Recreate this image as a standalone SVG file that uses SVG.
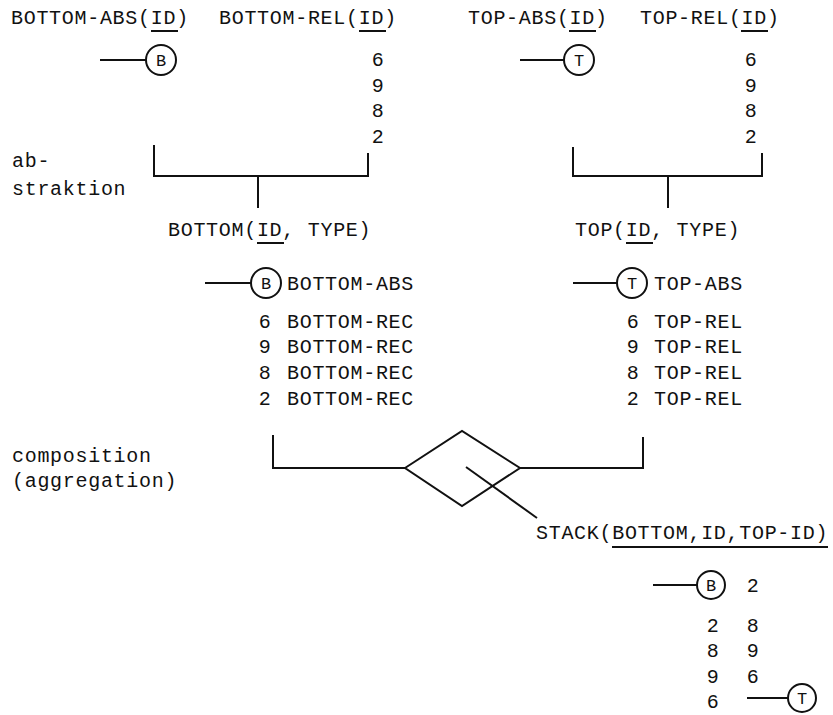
<svg xmlns="http://www.w3.org/2000/svg" width="833" height="715" viewBox="0 0 833 715">
<style>
text{font-family:"Liberation Mono","Courier New",monospace;font-size:20px;letter-spacing:0.7px;fill:#111}
.m{text-anchor:middle}
line,path,polyline,polygon,circle{stroke:#111;stroke-width:2;fill:none}
.c text{font-size:17px;letter-spacing:0}
</style>
<rect width="833" height="715" fill="#fff"/>
<g id="labels">
<text x="12" y="167">ab-</text>
<text x="12" y="195">straktion</text>
<text x="12" y="462">composition</text>
<text x="12" y="487">(aggregation)</text>
</g>
<g id="bottom-abs">
<text x="11" y="24">BOTTOM-ABS(ID)</text>
<line x1="151" y1="31" x2="178" y2="31"/>
<line x1="100" y1="60" x2="146" y2="60"/>
<g class="c"><circle cx="161" cy="60" r="15"/><text class="m" x="161" y="66">B</text></g>
</g>
<g id="bottom-rel">
<text x="219" y="24">BOTTOM-REL(ID)</text>
<line x1="359" y1="31" x2="386" y2="31"/>
<text class="m" x="378" y="66">6</text>
<text class="m" x="378" y="92">9</text>
<text class="m" x="378" y="117">8</text>
<text class="m" x="378" y="143">2</text>
</g>
<g id="top-abs">
<text x="468" y="24">TOP-ABS(ID)</text>
<line x1="569" y1="31" x2="596" y2="31"/>
<line x1="520" y1="60" x2="564" y2="60"/>
<g class="c"><circle cx="579" cy="60" r="15"/><text class="m" x="579" y="66">T</text></g>
</g>
<g id="top-rel">
<text x="640" y="24">TOP-REL(ID)</text>
<line x1="741" y1="31" x2="768" y2="31"/>
<text class="m" x="751" y="66">6</text>
<text class="m" x="751" y="92">9</text>
<text class="m" x="751" y="117">8</text>
<text class="m" x="751" y="143">2</text>
</g>
<g id="bottom">
<text x="168" y="236">BOTTOM(ID, TYPE)</text>
<line x1="257" y1="243" x2="284" y2="243"/>
<line x1="205" y1="283" x2="251" y2="283"/>
<g class="c"><circle cx="266" cy="283" r="15"/><text class="m" x="266" y="289">B</text></g>
<text x="287" y="290">BOTTOM-ABS</text>
<text class="m" x="265" y="328">6</text><text x="287" y="328">BOTTOM-REC</text>
<text class="m" x="265" y="353">9</text><text x="287" y="353">BOTTOM-REC</text>
<text class="m" x="265" y="379">8</text><text x="287" y="379">BOTTOM-REC</text>
<text class="m" x="265" y="405">2</text><text x="287" y="405">BOTTOM-REC</text>
</g>
<g id="top">
<text x="575" y="236">TOP(ID, TYPE)</text>
<line x1="626" y1="243" x2="653" y2="243"/>
<line x1="573" y1="283" x2="617" y2="283"/>
<g class="c"><circle cx="632" cy="283" r="15"/><text class="m" x="632" y="289">T</text></g>
<text x="654" y="290">TOP-ABS</text>
<text class="m" x="633" y="328">6</text><text x="654" y="328">TOP-REL</text>
<text class="m" x="633" y="353">9</text><text x="654" y="353">TOP-REL</text>
<text class="m" x="633" y="379">8</text><text x="654" y="379">TOP-REL</text>
<text class="m" x="633" y="405">2</text><text x="654" y="405">TOP-REL</text>
</g>
<g id="stack">
<text x="536" y="539">STACK(BOTTOM,ID,TOP-ID)</text>
<line x1="612" y1="547" x2="828" y2="547"/>
<line x1="653" y1="585" x2="697" y2="585"/>
<g class="c"><circle cx="711" cy="585" r="14"/><text class="m" x="711" y="591">B</text></g>
<text class="m" x="753" y="592">2</text>
<text class="m" x="713" y="632">2</text><text class="m" x="753" y="632">8</text>
<text class="m" x="713" y="657">8</text><text class="m" x="753" y="657">9</text>
<text class="m" x="713" y="683">9</text><text class="m" x="753" y="683">6</text>
<text class="m" x="713" y="708">6</text>
<line x1="747" y1="698" x2="788" y2="698"/>
<g class="c"><circle cx="802" cy="698" r="14"/><text class="m" x="802" y="704">T</text></g>
</g>
<g id="connectors">
<polyline points="154,145 154,176 368,176 368,153"/>
<line x1="258" y1="176" x2="258" y2="208"/>
<polyline points="573,147 573,176 762,176 762,153"/>
<line x1="668" y1="176" x2="668" y2="208"/>
<polyline points="273,435 273,468 405,468"/>
<polygon points="405,468 462,431 520,468 462,506"/>
<polyline points="520,468 643,468 643,437"/>
<line x1="466" y1="467" x2="537" y2="518"/>
</g>
</svg>
